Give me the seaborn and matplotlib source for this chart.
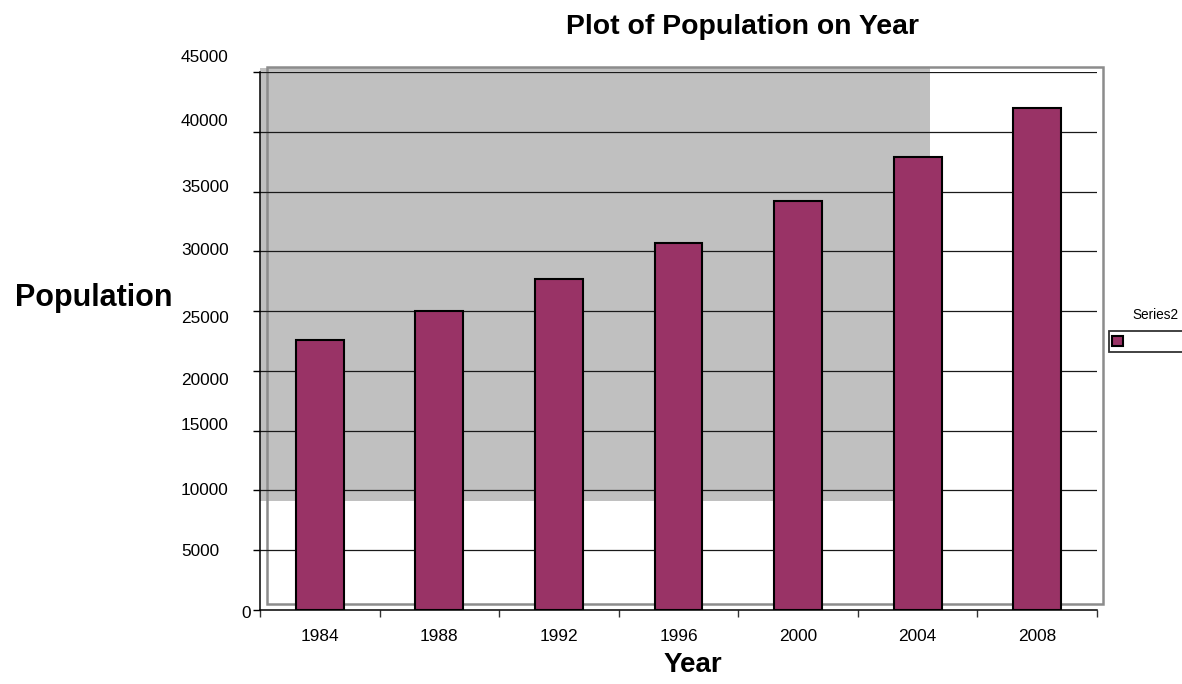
import matplotlib
matplotlib.use("Agg")
import matplotlib.pyplot as plt
from matplotlib.patches import Rectangle
from matplotlib.transforms import offset_copy
import seaborn as sns
import pandas as pd

# Population by year
years = ["1984", "1988", "1992", "1996", "2000", "2004", "2008"]
population = [22600, 25000, 27700, 30700, 34200, 37900, 42000]
y_ticks = [0, 5000, 10000, 15000, 20000, 25000, 30000, 35000, 40000, 45000]
series_name = "Series2"

df = pd.DataFrame({"Year": years, "Population": population})

sns.set_theme(style="white")
plt.rcParams["font.family"] = ["Liberation Sans", "DejaVu Sans"]

fig = plt.figure(figsize=(11.82, 6.84), dpi=100)
ax = fig.add_axes([260 / 1182, 1 - 610 / 684, 837 / 1182, 538 / 684])

bar_color = "#993366"
sns.barplot(data=df, x="Year", y="Population", color=bar_color,
            saturation=1, edgecolor="black", linewidth=1.5, width=0.4,
            ax=ax, label=series_name, zorder=3)
if ax.get_legend() is not None:
    ax.get_legend().remove()

ax.set_ylim(0, 45000)
ax.set_xlim(-0.5, len(years) - 0.5)
ax.set_yticks(y_ticks)
ax.set_yticklabels([])

# plot-area background and its offset grey frame
ax.add_patch(Rectangle((0.0, 0.2026), 0.800, 0.805, transform=ax.transAxes,
                       facecolor="#c0c0c0", edgecolor="none", zorder=0.5,
                       clip_on=False))
ax.add_patch(Rectangle((0.0085, 0.011), 0.9985, 0.999, transform=ax.transAxes,
                       facecolor="none", edgecolor="#8c8c8c", linewidth=1.8,
                       zorder=0.6, clip_on=False))

# horizontal gridlines
for v in y_ticks[1:]:
    ax.axhline(v, color="#1a1a1a", linewidth=0.9, zorder=1)

for s in ["top", "right"]:
    ax.spines[s].set_visible(False)
for s in ["left", "bottom"]:
    ax.spines[s].set_color("black")
    ax.spines[s].set_linewidth(1.1)
    ax.spines[s].set_zorder(4)

# x ticks sit between categories
ax.set_xticks(range(len(years)))
ax.set_xticklabels(years)
ax.set_xticks([i - 0.5 for i in range(len(years) + 1)], minor=True)
ax.tick_params(axis="x", which="major", length=0, pad=14, labelsize=12.4,
               labelcolor="black")
ax.tick_params(axis="x", which="minor", direction="out", length=5, width=1,
               color="#333333", bottom=True)
ax.tick_params(axis="y", which="major", direction="out", length=5, width=1,
               color="black", left=True)

# value labels of the y axis: left-aligned column, each nudged in pixels
label_dx_px = [60, 0, 0, 0, 0, 0, 0, 0, 0, 0]
label_dy_px = [-3, -1, 0, 5, -10, -7, 1, 4, 10, 14]
ytrans = ax.get_yaxis_transform()
for v, dx, dy in zip(y_ticks, label_dx_px, label_dy_px):
    tr = offset_copy(ytrans, fig=fig, x=dx - 79, y=dy, units="dots")
    ax.text(0, v, str(v), transform=tr, ha="left", va="center",
            fontsize=12.4, color="black", clip_on=False)

ax.set_xlabel("Year", fontsize=20, fontweight="bold", color="black")
ax.xaxis.set_label_coords(0.517, -0.102)
ax.xaxis.label.set_va("center")
ax.set_ylabel("Population", fontsize=22, fontweight="bold", color="black",
              rotation=0, ha="right", va="center")
ax.yaxis.set_label_coords(-0.104, 0.58)

fig.text(743 / 1182, 1 - 27 / 684, "Plot of Population on Year",
         fontsize=20.4, fontweight="bold", ha="center", va="center",
         color="black")

# legend: swatch in a framed box, series name above it
handles, _ = ax.get_legend_handles_labels()
leg = fig.legend(handles[:1], ["              "], loc="upper left",
                 bbox_to_anchor=(1109 / 1182, 1 - 331 / 684),
                 frameon=True, fancybox=False, borderpad=0.25,
                 handlelength=0.75, handleheight=0.75, handletextpad=0.4,
                 fontsize=10, borderaxespad=0)
leg.get_frame().set_edgecolor("black")
leg.get_frame().set_linewidth(1.3)
fig.text(1155 / 1182, 1 - 315 / 684, series_name, fontsize=9.8,
         ha="center", va="center", color="black")

fig.savefig("out.png", dpi=100)
